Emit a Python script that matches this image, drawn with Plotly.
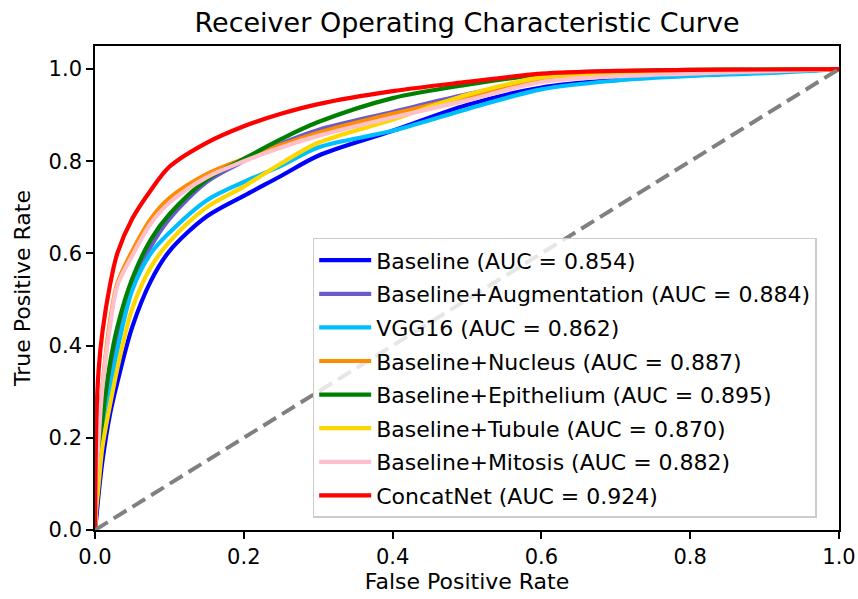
import plotly.graph_objects as go

fpr = [0, 0.002, 0.005, 0.01, 0.02, 0.03, 0.05, 0.075, 0.1, 0.15, 0.2, 0.25, 0.3, 0.4, 0.5, 0.6, 0.7, 0.8, 0.9, 1.0]

tpr_baseline = [0, 0.03, 0.08, 0.15, 0.25, 0.32, 0.44, 0.54, 0.605, 0.68, 0.725, 0.768, 0.812, 0.866, 0.922, 0.96, 0.977, 0.987, 0.993, 1.0]
tpr_augment = [0, 0.08, 0.14, 0.22, 0.34, 0.42, 0.53, 0.615, 0.675, 0.755, 0.80, 0.838, 0.868, 0.907, 0.945, 0.975, 0.986, 0.992, 0.996, 1.0]
tpr_vgg16 = [0, 0.07, 0.13, 0.20, 0.30, 0.39, 0.52, 0.60, 0.645, 0.715, 0.755, 0.79, 0.83, 0.866, 0.913, 0.956, 0.975, 0.985, 0.991, 1.0]
tpr_nucleus = [0, 0.12, 0.20, 0.31, 0.45, 0.535, 0.605, 0.675, 0.72, 0.772, 0.805, 0.835, 0.862, 0.903, 0.94, 0.975, 0.986, 0.992, 0.996, 1.0]
tpr_epith = [0, 0.09, 0.16, 0.24, 0.36, 0.44, 0.545, 0.63, 0.685, 0.76, 0.805, 0.848, 0.885, 0.937, 0.966, 0.988, 0.995, 0.998, 0.999, 1.0]
tpr_tubule = [0, 0.05, 0.10, 0.18, 0.27, 0.35, 0.48, 0.57, 0.625, 0.70, 0.745, 0.795, 0.84, 0.89, 0.944, 0.982, 0.99, 0.994, 0.997, 1.0]
tpr_mitosis = [0, 0.12, 0.20, 0.31, 0.44, 0.53, 0.595, 0.665, 0.71, 0.765, 0.80, 0.83, 0.855, 0.895, 0.932, 0.972, 0.984, 0.99, 0.995, 1.0]
tpr_concat = [0, 0.25, 0.35, 0.43, 0.53, 0.60, 0.675, 0.737, 0.788, 0.84, 0.876, 0.903, 0.924, 0.952, 0.972, 0.99, 0.996, 0.998, 0.999, 1.0]

labels = [
    "Baseline (AUC = 0.854)",
    "Baseline+Augmentation (AUC = 0.884)",
    "VGG16 (AUC = 0.862)",
    "Baseline+Nucleus (AUC = 0.887)",
    "Baseline+Epithelium (AUC = 0.895)",
    "Baseline+Tubule (AUC = 0.870)",
    "Baseline+Mitosis (AUC = 0.882)",
    "ConcatNet (AUC = 0.924)",
]
series = [tpr_baseline, tpr_augment, tpr_vgg16, tpr_nucleus, tpr_epith, tpr_tubule, tpr_mitosis, tpr_concat]
colors = ["#0000FF", "#6A5ACD", "#00BFFF", "#FF8C00", "#008000", "#FFD700", "#FFC0CB", "#FF0000"]

diag = [0, 1]

fig = go.Figure()
for i, (lab, ys, c) in enumerate(zip(labels, series, colors)):
    fig.add_trace(go.Scatter(x=fpr, y=ys, mode="lines", name=lab,
                             line=dict(color=c, width=4.2, shape="spline", smoothing=0.9),
                             legendgroup=f"g{i}"))
fig.add_trace(go.Scatter(x=diag, y=diag, mode="lines", showlegend=False,
                         line=dict(color="#808080", width=4, dash="15px,7px")))

font = "DejaVu Sans, sans-serif"
axis_common = dict(showline=True, linecolor="black", linewidth=1.6, mirror=True,
                   ticks="outside", ticklen=7, tickwidth=1.6, tickcolor="black",
                   showgrid=False, zeroline=False, tickformat=".1f", automargin=False,
                   tickfont=dict(family=font, size=21, color="black"))
fig.update_layout(
    width=858, height=599,
    margin=dict(l=95, r=19, t=46, b=69),
    paper_bgcolor="white", plot_bgcolor="white",
    title=dict(text="Receiver Operating Characteristic Curve", x=0.5, xref="paper",
               y=0.962, yref="container", yanchor="middle",
               font=dict(family=font, size=27, color="black")),
    xaxis=dict(range=[0, 1], tickvals=[0, 0.2, 0.4, 0.6, 0.8, 1.0],
               title=dict(text="False Positive Rate", font=dict(family=font, size=22, color="black"), standoff=5),
               **axis_common),
    yaxis=dict(range=[0, 1.05], tickvals=[0, 0.2, 0.4, 0.6, 0.8, 1.0],
               title=dict(text="True Positive Rate", font=dict(family=font, size=22, color="black"), standoff=12),
               **axis_common),
    legend=dict(x=0.97, y=0.025, xanchor="right", yanchor="bottom",
                bgcolor="rgba(255,255,255,0.8)", bordercolor="#cccccc", borderwidth=1.5,
                font=dict(family=font, size=22, color="black"),
                tracegroupgap=2, itemwidth=52),
    showlegend=True,
)
fig.write_html("out.html", config={"displayModeBar": False},
               post_script="document.body.style.margin='0';document.body.style.padding='0';")
